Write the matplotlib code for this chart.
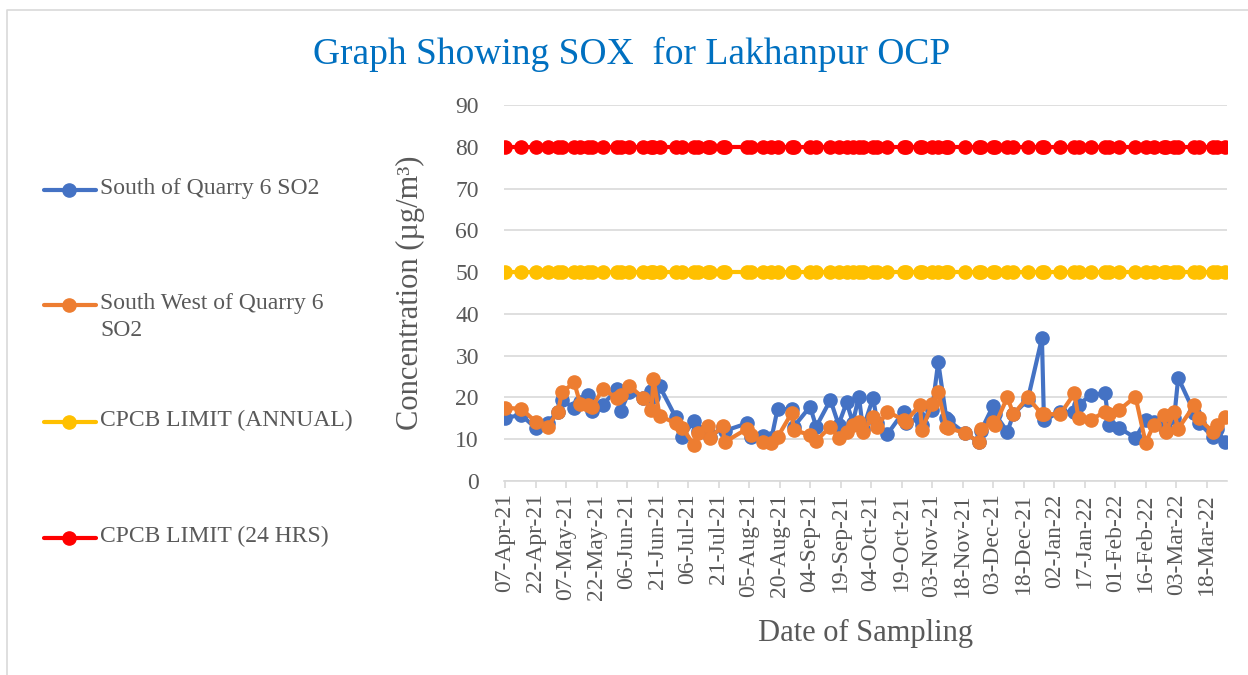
import numpy as np
import pandas as pd
import matplotlib
matplotlib.use('Agg')
import matplotlib.pyplot as plt
import matplotlib.dates as mdates

plt.rcParams['font.family'] = ['Liberation Serif', 'DejaVu Serif']

# sampling dates and SO2 values
dates = ['2021-04-07', '2021-04-15', '2021-04-22', '2021-04-28', '2021-05-03', '2021-05-05',
         '2021-05-11', '2021-05-14', '2021-05-18', '2021-05-20', '2021-05-25', '2021-06-01',
         '2021-06-03', '2021-06-07', '2021-06-14', '2021-06-18', '2021-06-19', '2021-06-22',
         '2021-06-30', '2021-07-03', '2021-07-09', '2021-07-11', '2021-07-16', '2021-07-17',
         '2021-07-23', '2021-07-24', '2021-08-04', '2021-08-06', '2021-08-12', '2021-08-16',
         '2021-08-19', '2021-08-26', '2021-08-27', '2021-09-04', '2021-09-07', '2021-09-14',
         '2021-09-18', '2021-09-22', '2021-09-25', '2021-09-28', '2021-09-30', '2021-10-05',
         '2021-10-07', '2021-10-12', '2021-10-20', '2021-10-21', '2021-10-28', '2021-10-29',
         '2021-11-03', '2021-11-06', '2021-11-10', '2021-11-11', '2021-11-19', '2021-11-26',
         '2021-11-27', '2021-12-03', '2021-12-04', '2021-12-10', '2021-12-13', '2021-12-20',
         '2021-12-27', '2021-12-28', '2022-01-05', '2022-01-12', '2022-01-14', '2022-01-20',
         '2022-01-27', '2022-01-29', '2022-02-03', '2022-02-11', '2022-02-16', '2022-02-20',
         '2022-02-25', '2022-02-26', '2022-03-02', '2022-03-04', '2022-03-12', '2022-03-14',
         '2022-03-21', '2022-03-23', '2022-03-27']

south_q6 = [15.1, 15.8, 12.7, 14.0, 16.6, 19.3, 17.5, 19.0, 20.6, 16.8, 18.2, 22.0,
            16.8, 21.4, 19.9, 21.5, 20.0, 22.7, 15.2, 10.5, 14.4, 12.0, 11.8, 10.5,
            13.0, 12.0, 13.8, 10.5, 10.8, 10.2, 17.2, 17.2, 13.0, 17.8, 13.0, 19.4,
            13.5, 18.8, 14.0, 20.2, 12.5, 19.9, 14.0, 11.2, 16.6, 14.0, 15.0, 13.5,
            17.0, 28.5, 15.0, 14.5, 11.5, 9.3, 12.0, 18.0, 16.0, 11.8, 16.0, 19.4,
            34.2, 14.5, 16.6, 16.5, 18.2, 20.6, 21.0, 13.4, 12.7, 10.3, 14.5, 14.2,
            13.5, 12.0, 15.0, 24.7, 16.3, 14.0, 10.6, 12.5, 9.3]

south_west_q6 = [17.5, 17.3, 14.2, 12.9, 16.6, 21.2, 23.6, 18.5, 18.2, 17.8, 22.0, 19.9,
                 20.5, 22.8, 19.9, 17.0, 24.5, 15.6, 13.8, 12.8, 8.6, 11.5, 13.2, 10.4,
                 13.2, 9.3, 12.5, 11.0, 9.3, 9.0, 10.5, 16.3, 12.2, 11.0, 9.6, 13.0,
                 10.3, 11.8, 13.5, 14.2, 11.8, 15.4, 13.0, 16.6, 14.6, 14.2, 18.2, 12.2,
                 18.5, 21.2, 13.0, 12.7, 11.5, 9.3, 12.5, 14.2, 13.5, 20.0, 16.0, 20.0,
                 16.0, 16.0, 16.0, 21.0, 15.0, 14.6, 16.6, 16.0, 17.0, 20.2, 9.1, 13.5,
                 15.8, 11.8, 16.5, 12.5, 18.2, 15.0, 11.8, 13.3, 15.3]

limit_annual = 50
limit_24hr = 80

series_names = ['South of Quarry 6 SO2', 'South West of Quarry 6\nSO2',
                'CPCB LIMIT (ANNUAL)', 'CPCB LIMIT (24 HRS)']
colors = ['#4472C4', '#ED7D31', '#FFC000', '#FF0000']

x = pd.to_datetime(dates)
n = len(x)

fig = plt.figure(figsize=(12.48, 6.75), dpi=100)
ax = fig.add_axes([504/1248, 1-481/675, 723/1248, 376/675])

series = [south_q6, south_west_q6, [limit_annual]*n, [limit_24hr]*n]
lines = []
for vals, c in zip(series, colors):
    ln, = ax.plot(x, vals, color=c, lw=3, marker='o', ms=9.5, solid_capstyle='round')
    lines.append(ln)

ax.set_ylim(0, 90)
ax.set_yticks(np.arange(0, 91, 10))
start = pd.Timestamp('2021-04-07')
ax.set_xlim(start - pd.Timedelta(hours=12), start + pd.Timedelta(days=355))
ticks = pd.date_range(start, periods=24, freq='15D')
ax.set_xticks(ticks)
ax.xaxis.set_major_formatter(mdates.DateFormatter('%d-%b-%y'))

ax.grid(axis='y', color='#D9D9D9', lw=1.2)
ax.set_axisbelow(True)
for s in ['top', 'right', 'left']:
    ax.spines[s].set_visible(False)
ax.spines['bottom'].set_color('#D9D9D9')
ax.spines['bottom'].set_linewidth(1.2)
ax.tick_params(axis='x', colors='#D9D9D9', length=5, width=1.2, labelcolor='#595959',
               labelsize=17, labelrotation=90, pad=4)
ax.tick_params(axis='y', length=0, labelcolor='#595959', labelsize=17, pad=18)

ax.set_ylabel('Concentration (µg/m³)', fontsize=22, color='#595959', labelpad=22)
ax.set_xlabel('Date of Sampling', fontsize=22, color='#595959', labelpad=14)

# overlay for title, legend and chart border (pixel coordinates)
ov = fig.add_axes([0, 0, 1, 1], facecolor='none')
ov.set_xlim(0, 1248)
ov.set_ylim(675, 0)
ov.axis('off')
ov.plot([7, 7, 1260], [680, 10, 10], color='#D9D9D9', lw=1.2)
ov.text(632, 54, 'Graph Showing SOX  for Lakhanpur OCP', fontsize=27, color='#0070C0',
        ha='center', va='center')

leg_y = [190, 305, 422, 538]
for ln, name, yy in zip(lines, series_names, leg_y):
    ov.plot([44, 96], [yy, yy], color=ln.get_color(), lw=3, solid_capstyle='round')
    ov.plot([69], [yy], marker='o', ms=9.5, color=ln.get_color())
    ov.text(100, yy - 12, name, fontsize=17, color='#595959', ha='left', va='top',
            linespacing=1.35)

fig.savefig('out.png', dpi=100)
